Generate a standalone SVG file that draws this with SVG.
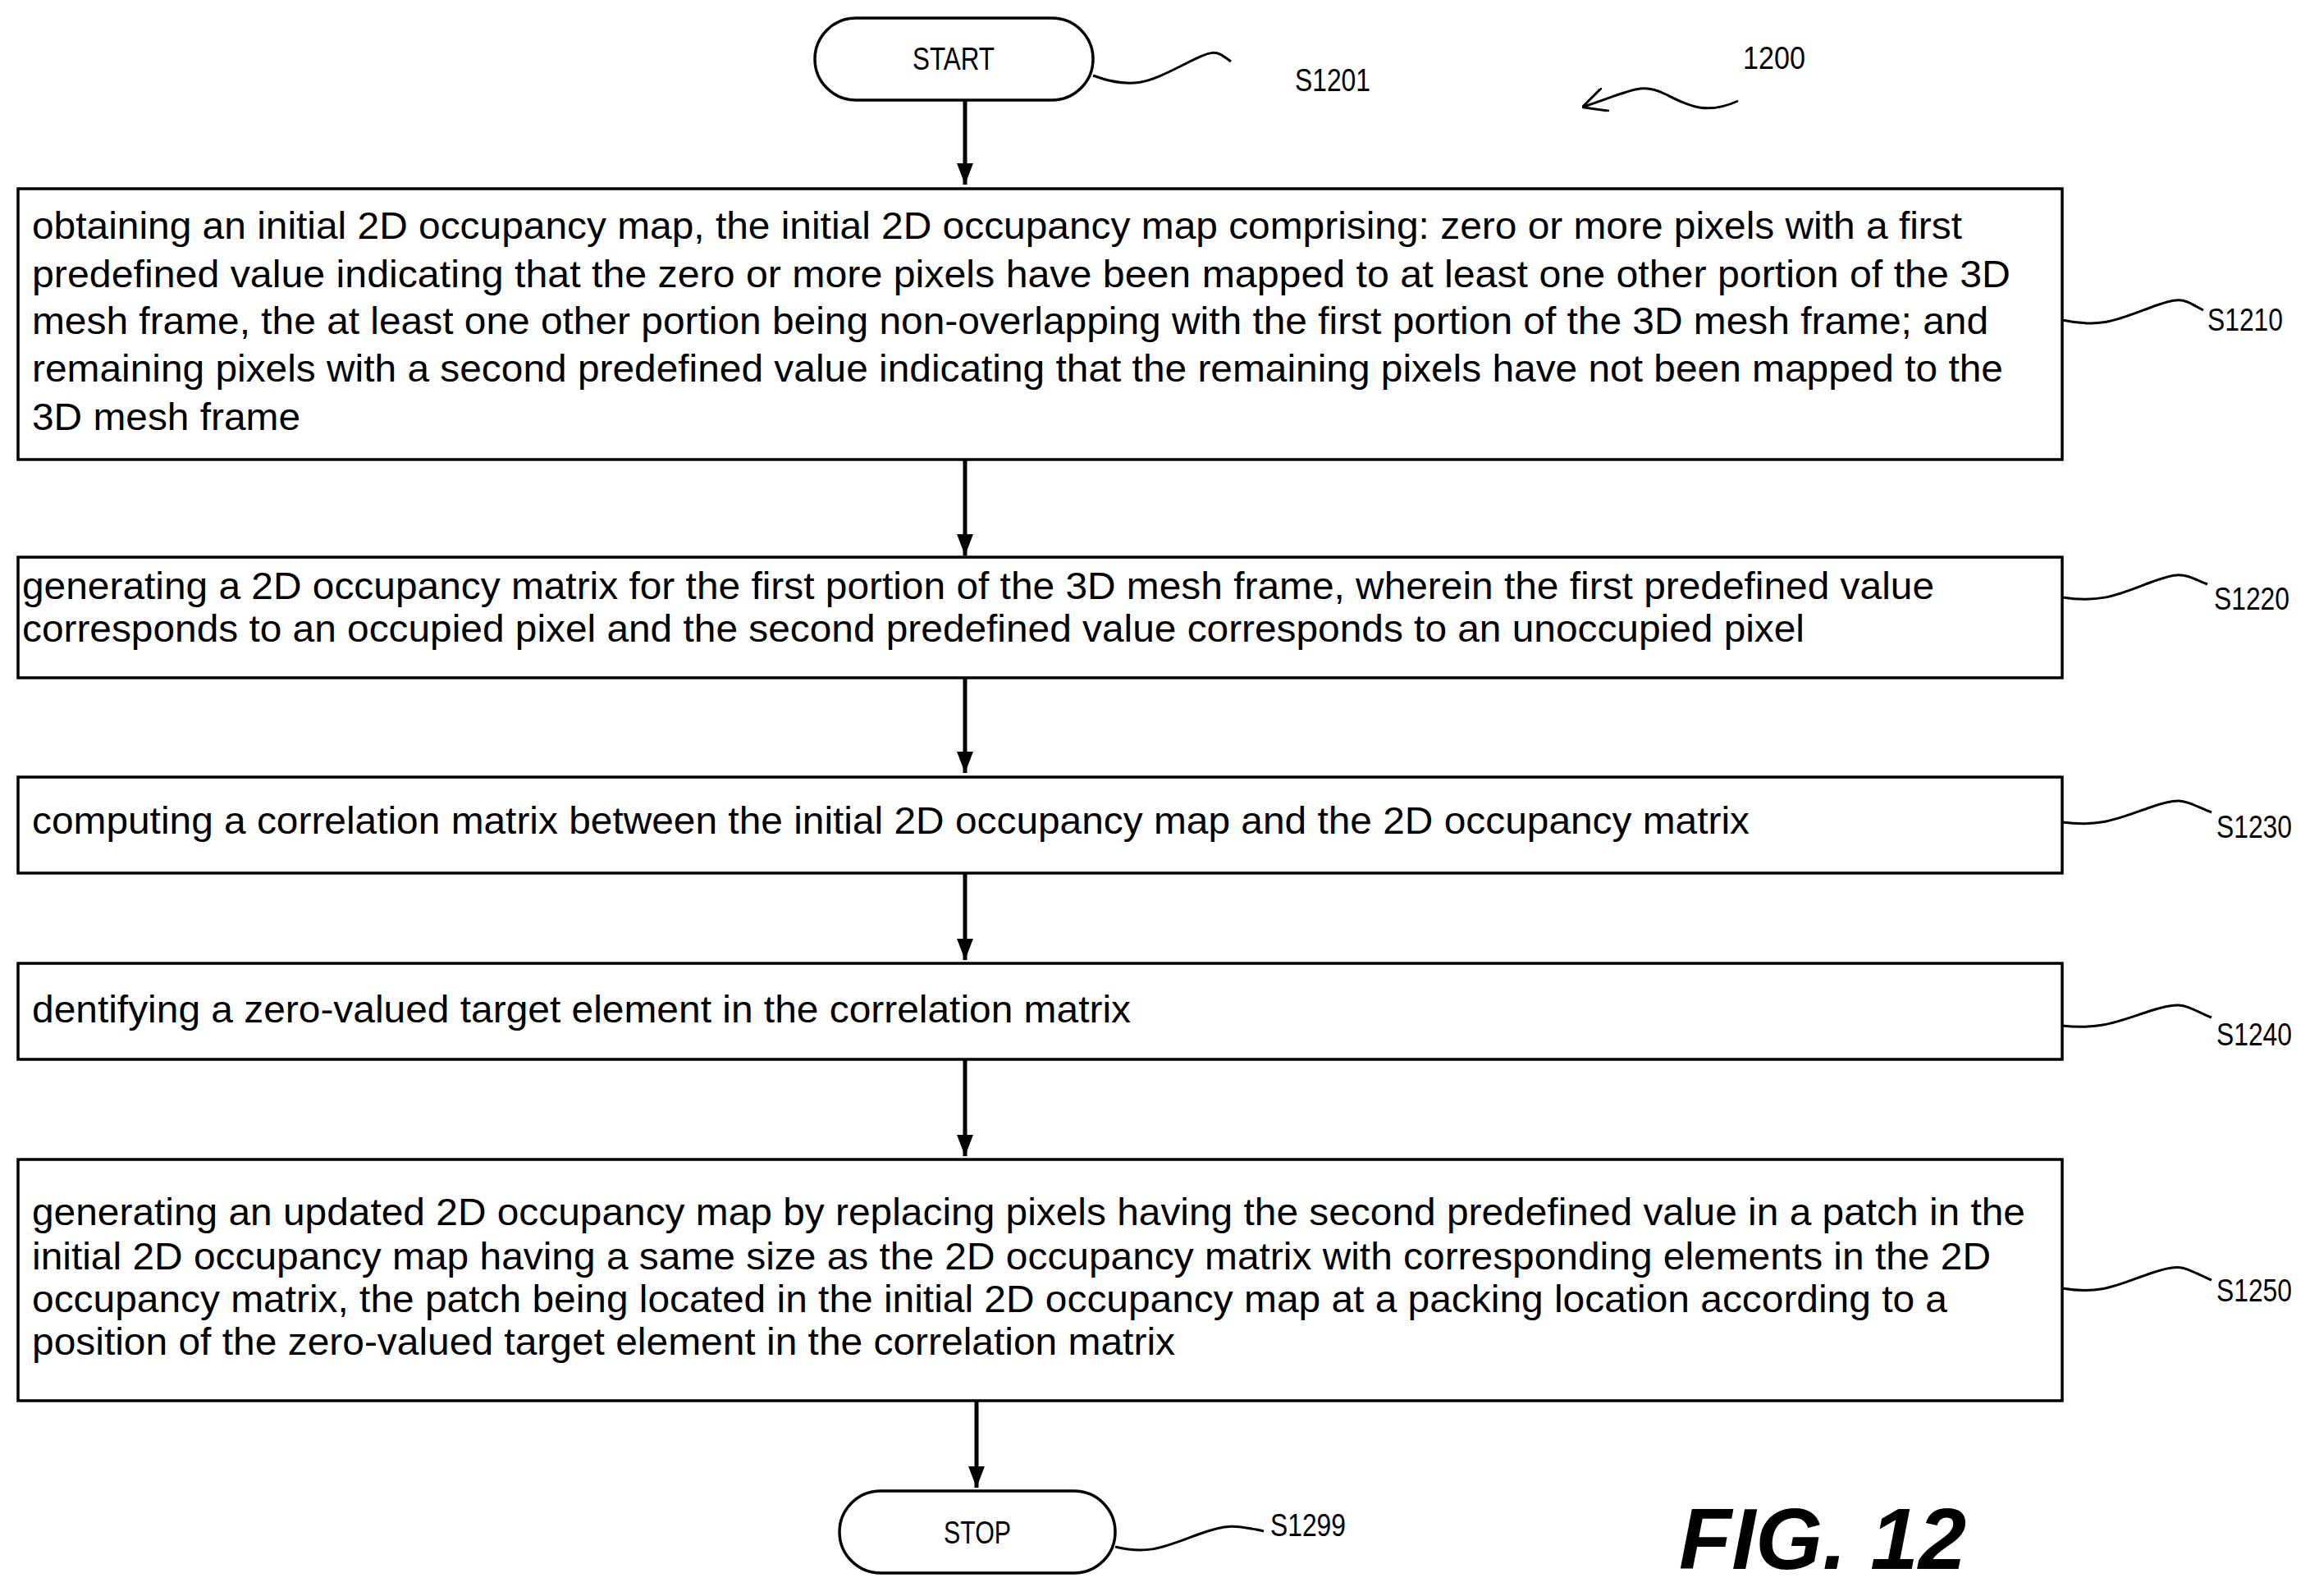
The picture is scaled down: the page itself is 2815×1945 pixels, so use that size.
<svg xmlns="http://www.w3.org/2000/svg" width="2815" height="1945" viewBox="0 0 2815 1945">
<style>
.b{fill:#fff;stroke:#000;stroke-width:3.5}
.t{font-family:"Liberation Sans",Arial,sans-serif;font-size:46px;fill:#000}
.s{font-family:"Liberation Sans",Arial,sans-serif;font-size:38px;fill:#000}
.l{fill:none;stroke:#000;stroke-width:3}
</style>
<defs><marker id="a" markerWidth="26" markerHeight="34" refX="34" refY="13" orient="auto" markerUnits="userSpaceOnUse" viewBox="0 0 34 26"><path d="M0,0L34,13L0,26z"/></marker>
<marker id="h" viewBox="0 0 30 30" refX="28" refY="15" markerWidth="30" markerHeight="30" orient="auto" markerUnits="userSpaceOnUse"><path d="M0,0L30,15L0,30" fill="none" stroke="#000" stroke-width="3"/></marker></defs>
<rect width="2815" height="1945" fill="#fff"/>
<g id="start"><rect class="b" x="993" y="22" width="339" height="100" rx="50"/><text class="s" x="1162" y="85" text-anchor="middle" textLength="100" lengthAdjust="spacingAndGlyphs">START</text></g>
<g id="s1210"><rect class="b" x="22" y="230" width="2491" height="330"/>
<text class="t" x="39" y="291" textLength="2352" lengthAdjust="spacingAndGlyphs">obtaining an initial 2D occupancy map, the initial 2D occupancy map comprising: zero or more pixels with a first</text>
<text class="t" x="39" y="350" textLength="2411" lengthAdjust="spacingAndGlyphs">predefined value indicating that the zero or more pixels have been mapped to at least one other portion of the 3D</text>
<text class="t" x="39" y="407" textLength="2384" lengthAdjust="spacingAndGlyphs">mesh frame, the at least one other portion being non-overlapping with the first portion of the 3D mesh frame; and</text>
<text class="t" x="39" y="465" textLength="2402" lengthAdjust="spacingAndGlyphs">remaining pixels with a second predefined value indicating that the remaining pixels have not been mapped to the</text>
<text class="t" x="39" y="524" textLength="327" lengthAdjust="spacingAndGlyphs">3D mesh frame</text></g>
<g id="s1220"><rect class="b" x="22" y="679" width="2491" height="147"/>
<text class="t" x="27" y="730" textLength="2330" lengthAdjust="spacingAndGlyphs">generating a 2D occupancy matrix for the first portion of the 3D mesh frame, wherein the first predefined value</text>
<text class="t" x="27" y="782" textLength="2172" lengthAdjust="spacingAndGlyphs">corresponds to an occupied pixel and the second predefined value corresponds to an unoccupied pixel</text></g>
<g id="s1230"><rect class="b" x="22" y="947" width="2491" height="117"/>
<text class="t" x="39" y="1016" textLength="2093" lengthAdjust="spacingAndGlyphs">computing a correlation matrix between the initial 2D occupancy map and the 2D occupancy matrix</text></g>
<g id="s1240"><rect class="b" x="22" y="1174" width="2491" height="117"/>
<text class="t" x="39" y="1246" textLength="1339" lengthAdjust="spacingAndGlyphs">dentifying a zero-valued target element in the correlation matrix</text></g>
<g id="s1250"><rect class="b" x="22" y="1413" width="2491" height="294"/>
<text class="t" x="39" y="1493" textLength="2429" lengthAdjust="spacingAndGlyphs">generating an updated 2D occupancy map by replacing pixels having the second predefined value in a patch in the</text>
<text class="t" x="39" y="1547" textLength="2387" lengthAdjust="spacingAndGlyphs">initial 2D occupancy map having a same size as the 2D occupancy matrix with corresponding elements in the 2D</text>
<text class="t" x="39" y="1599" textLength="2334" lengthAdjust="spacingAndGlyphs">occupancy matrix, the patch being located in the initial 2D occupancy map at a packing location according to a</text>
<text class="t" x="39" y="1651" textLength="1393" lengthAdjust="spacingAndGlyphs">position of the zero-valued target element in the correlation matrix</text></g>
<g id="stop"><rect class="b" x="1023" y="1817" width="336" height="100" rx="50"/><text class="s" x="1191" y="1881" text-anchor="middle" textLength="82" lengthAdjust="spacingAndGlyphs">STOP</text></g>
<g id="connectors">
<g stroke="#000" stroke-width="5" fill="none">
<path d="M1176 122V225" marker-end="url(#a)"/>
<path d="M1176 560V677" marker-end="url(#a)"/>
<path d="M1176 826V942" marker-end="url(#a)"/>
<path d="M1176 1064V1170" marker-end="url(#a)"/>
<path d="M1176 1291V1409" marker-end="url(#a)"/>
<path d="M1190 1707V1813" marker-end="url(#a)"/>
</g>
<g class="l">
<path d="M1332 92C1380 110 1400 100 1440 80S1480 60 1500 75"/>
<path d="M2513 390C2560 400 2580 390 2620 375S2660 365 2685 378"/>
<path d="M2513 728C2560 735 2580 725 2620 710S2660 700 2690 712"/>
<path d="M2513 1002C2560 1008 2580 998 2620 984S2660 976 2695 990"/>
<path d="M2513 1250C2560 1255 2580 1245 2620 1232S2660 1225 2695 1240"/>
<path d="M2513 1570C2560 1578 2580 1566 2620 1552S2660 1545 2695 1560"/>
<path d="M1359 1885C1400 1895 1420 1885 1460 1870S1510 1860 1540 1866"/>
<path d="M2118 123C2080 140 2060 130 2030 115S1990 110 1930 130" marker-end="url(#h)"/>
</g></g>
<g id="labels">
<text class="s" x="1578" y="111" textLength="92" lengthAdjust="spacingAndGlyphs">S1201</text>
<text class="s" x="2124" y="84" textLength="76" lengthAdjust="spacingAndGlyphs">1200</text>
<text class="s" x="2690" y="403" textLength="92" lengthAdjust="spacingAndGlyphs">S1210</text>
<text class="s" x="2698" y="743" textLength="92" lengthAdjust="spacingAndGlyphs">S1220</text>
<text class="s" x="2701" y="1021" textLength="92" lengthAdjust="spacingAndGlyphs">S1230</text>
<text class="s" x="2701" y="1274" textLength="92" lengthAdjust="spacingAndGlyphs">S1240</text>
<text class="s" x="2701" y="1586" textLength="92" lengthAdjust="spacingAndGlyphs">S1250</text>
<text class="s" x="1548" y="1872" textLength="92" lengthAdjust="spacingAndGlyphs">S1299</text>
<text x="2046" y="1912" font-family="Liberation Sans,Arial,sans-serif" font-size="105" font-weight="bold" font-style="italic">FIG. 12</text>
</g>
</svg>
